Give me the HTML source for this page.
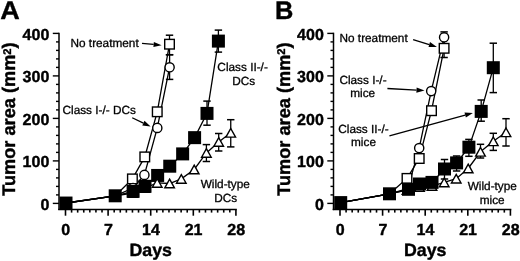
<!DOCTYPE html>
<html><head><meta charset="utf-8"><style>
html,body{margin:0;padding:0;background:#fff;}
svg{display:block;filter:grayscale(1);}
text{font-family:"Liberation Sans", sans-serif;fill:#000;text-rendering:geometricPrecision;stroke:#000;stroke-width:0.3px;stroke-linejoin:round;}
text[font-weight="bold"]{stroke:#000;stroke-width:0.4px;stroke-linejoin:round;}
</style></head><body>
<svg width="520" height="261" viewBox="0 0 520 261">
<rect width="520" height="261" fill="#fff"/>
<text x="0.3" y="19.2" font-size="25.5" font-weight="bold" transform="translate(0.3,0) scale(1.06,1) translate(-0.3,0)">A</text>
<line x1="59" y1="32.7" x2="59" y2="210.1" stroke="#000" stroke-width="1.5"/>
<line x1="52.80" y1="203.40" x2="59" y2="203.40" stroke="#000" stroke-width="1.4"/>
<text x="49.30" y="209.70" font-size="16" font-weight="bold" text-anchor="end">0</text>
<line x1="56.00" y1="194.90" x2="59" y2="194.90" stroke="#000" stroke-width="1.4"/>
<line x1="56.00" y1="186.40" x2="59" y2="186.40" stroke="#000" stroke-width="1.4"/>
<line x1="56.00" y1="177.90" x2="59" y2="177.90" stroke="#000" stroke-width="1.4"/>
<line x1="56.00" y1="169.40" x2="59" y2="169.40" stroke="#000" stroke-width="1.4"/>
<line x1="52.80" y1="160.90" x2="59" y2="160.90" stroke="#000" stroke-width="1.4"/>
<text x="49.30" y="167.20" font-size="16" font-weight="bold" text-anchor="end">100</text>
<line x1="56.00" y1="152.40" x2="59" y2="152.40" stroke="#000" stroke-width="1.4"/>
<line x1="56.00" y1="143.90" x2="59" y2="143.90" stroke="#000" stroke-width="1.4"/>
<line x1="56.00" y1="135.40" x2="59" y2="135.40" stroke="#000" stroke-width="1.4"/>
<line x1="56.00" y1="126.90" x2="59" y2="126.90" stroke="#000" stroke-width="1.4"/>
<line x1="52.80" y1="118.40" x2="59" y2="118.40" stroke="#000" stroke-width="1.4"/>
<text x="49.30" y="124.70" font-size="16" font-weight="bold" text-anchor="end">200</text>
<line x1="56.00" y1="109.90" x2="59" y2="109.90" stroke="#000" stroke-width="1.4"/>
<line x1="56.00" y1="101.40" x2="59" y2="101.40" stroke="#000" stroke-width="1.4"/>
<line x1="56.00" y1="92.90" x2="59" y2="92.90" stroke="#000" stroke-width="1.4"/>
<line x1="56.00" y1="84.40" x2="59" y2="84.40" stroke="#000" stroke-width="1.4"/>
<line x1="52.80" y1="75.90" x2="59" y2="75.90" stroke="#000" stroke-width="1.4"/>
<text x="49.30" y="82.20" font-size="16" font-weight="bold" text-anchor="end">300</text>
<line x1="56.00" y1="67.40" x2="59" y2="67.40" stroke="#000" stroke-width="1.4"/>
<line x1="56.00" y1="58.90" x2="59" y2="58.90" stroke="#000" stroke-width="1.4"/>
<line x1="56.00" y1="50.40" x2="59" y2="50.40" stroke="#000" stroke-width="1.4"/>
<line x1="56.00" y1="41.90" x2="59" y2="41.90" stroke="#000" stroke-width="1.4"/>
<line x1="52.80" y1="33.40" x2="59" y2="33.40" stroke="#000" stroke-width="1.4"/>
<text x="49.30" y="39.70" font-size="16" font-weight="bold" text-anchor="end">400</text>
<line x1="58.2" y1="209.5" x2="236.81" y2="209.5" stroke="#000" stroke-width="1.4"/>
<line x1="65.50" y1="209.5" x2="65.50" y2="215.7" stroke="#000" stroke-width="1.6"/>
<text x="65.80" y="234.9" font-size="16" font-weight="bold" text-anchor="middle">0</text>
<line x1="71.59" y1="209.5" x2="71.59" y2="212.6" stroke="#000" stroke-width="1.6"/>
<line x1="77.67" y1="209.5" x2="77.67" y2="212.6" stroke="#000" stroke-width="1.6"/>
<line x1="83.76" y1="209.5" x2="83.76" y2="212.6" stroke="#000" stroke-width="1.6"/>
<line x1="89.84" y1="209.5" x2="89.84" y2="212.6" stroke="#000" stroke-width="1.6"/>
<line x1="95.93" y1="209.5" x2="95.93" y2="212.6" stroke="#000" stroke-width="1.6"/>
<line x1="102.02" y1="209.5" x2="102.02" y2="212.6" stroke="#000" stroke-width="1.6"/>
<line x1="108.10" y1="209.5" x2="108.10" y2="215.7" stroke="#000" stroke-width="1.6"/>
<text x="108.40" y="234.9" font-size="16" font-weight="bold" text-anchor="middle">7</text>
<line x1="114.19" y1="209.5" x2="114.19" y2="212.6" stroke="#000" stroke-width="1.6"/>
<line x1="120.27" y1="209.5" x2="120.27" y2="212.6" stroke="#000" stroke-width="1.6"/>
<line x1="126.36" y1="209.5" x2="126.36" y2="212.6" stroke="#000" stroke-width="1.6"/>
<line x1="132.45" y1="209.5" x2="132.45" y2="212.6" stroke="#000" stroke-width="1.6"/>
<line x1="138.53" y1="209.5" x2="138.53" y2="212.6" stroke="#000" stroke-width="1.6"/>
<line x1="144.62" y1="209.5" x2="144.62" y2="212.6" stroke="#000" stroke-width="1.6"/>
<line x1="150.70" y1="209.5" x2="150.70" y2="215.7" stroke="#000" stroke-width="1.6"/>
<text x="151.00" y="234.9" font-size="16" font-weight="bold" text-anchor="middle">14</text>
<line x1="156.79" y1="209.5" x2="156.79" y2="212.6" stroke="#000" stroke-width="1.6"/>
<line x1="162.88" y1="209.5" x2="162.88" y2="212.6" stroke="#000" stroke-width="1.6"/>
<line x1="168.96" y1="209.5" x2="168.96" y2="212.6" stroke="#000" stroke-width="1.6"/>
<line x1="175.05" y1="209.5" x2="175.05" y2="212.6" stroke="#000" stroke-width="1.6"/>
<line x1="181.13" y1="209.5" x2="181.13" y2="212.6" stroke="#000" stroke-width="1.6"/>
<line x1="187.22" y1="209.5" x2="187.22" y2="212.6" stroke="#000" stroke-width="1.6"/>
<line x1="193.31" y1="209.5" x2="193.31" y2="215.7" stroke="#000" stroke-width="1.6"/>
<text x="193.61" y="234.9" font-size="16" font-weight="bold" text-anchor="middle">21</text>
<line x1="199.39" y1="209.5" x2="199.39" y2="212.6" stroke="#000" stroke-width="1.6"/>
<line x1="205.48" y1="209.5" x2="205.48" y2="212.6" stroke="#000" stroke-width="1.6"/>
<line x1="211.56" y1="209.5" x2="211.56" y2="212.6" stroke="#000" stroke-width="1.6"/>
<line x1="217.65" y1="209.5" x2="217.65" y2="212.6" stroke="#000" stroke-width="1.6"/>
<line x1="223.74" y1="209.5" x2="223.74" y2="212.6" stroke="#000" stroke-width="1.6"/>
<line x1="229.82" y1="209.5" x2="229.82" y2="212.6" stroke="#000" stroke-width="1.6"/>
<line x1="235.91" y1="209.5" x2="235.91" y2="215.7" stroke="#000" stroke-width="1.6"/>
<text x="236.21" y="234.9" font-size="16" font-weight="bold" text-anchor="middle">28</text>
<text x="150.70" y="255.5" font-size="17.8" font-weight="bold" text-anchor="middle">Days</text>
<text transform="translate(15.20,119.1) rotate(-90)" font-size="18.2" font-weight="bold" text-anchor="middle">Tumor area (mm<tspan font-size="11.2" dy="-4.5">2</tspan><tspan dy="4.5">)</tspan></text>
<polyline points="66.00,203.00 115.20,195.80 133.00,193.00 145.00,188.00 157.20,182.90 169.60,183.50 181.30,178.90 194.20,169.50 206.40,152.90 218.70,141.90 230.75,132.80" fill="none" stroke="#000" stroke-width="1.3"/>
<polyline points="66.00,203.00 115.20,195.80 133.00,188.00 144.40,174.90 157.30,127.90 169.60,67.30" fill="none" stroke="#000" stroke-width="1.3"/>
<polyline points="66.00,203.00 115.20,195.80 132.40,178.90 144.80,156.90 157.25,111.80 169.50,44.20" fill="none" stroke="#000" stroke-width="1.3"/>
<polyline points="66.00,203.05 115.20,195.80 133.10,191.30 145.00,186.30 157.65,175.45 169.75,166.20 182.65,153.90 194.60,137.65 207.00,113.40 218.40,41.10" fill="none" stroke="#000" stroke-width="1.3"/>
<line x1="206.40" y1="144.60" x2="206.40" y2="161.50" stroke="#000" stroke-width="1.3"/><line x1="202.70" y1="144.60" x2="210.10" y2="144.60" stroke="#000" stroke-width="1.5"/><line x1="202.70" y1="161.50" x2="210.10" y2="161.50" stroke="#000" stroke-width="1.5"/>
<line x1="218.70" y1="133.50" x2="218.70" y2="151.00" stroke="#000" stroke-width="1.3"/><line x1="215.00" y1="133.50" x2="222.40" y2="133.50" stroke="#000" stroke-width="1.5"/><line x1="215.00" y1="151.00" x2="222.40" y2="151.00" stroke="#000" stroke-width="1.5"/>
<line x1="230.75" y1="119.70" x2="230.75" y2="146.90" stroke="#000" stroke-width="1.3"/><line x1="227.05" y1="119.70" x2="234.45" y2="119.70" stroke="#000" stroke-width="1.5"/><line x1="227.05" y1="146.90" x2="234.45" y2="146.90" stroke="#000" stroke-width="1.5"/>
<line x1="169.60" y1="54.80" x2="169.60" y2="79.40" stroke="#000" stroke-width="1.3"/><line x1="165.90" y1="54.80" x2="173.30" y2="54.80" stroke="#000" stroke-width="1.5"/><line x1="165.90" y1="79.40" x2="173.30" y2="79.40" stroke="#000" stroke-width="1.5"/>
<line x1="169.50" y1="35.20" x2="169.50" y2="54.70" stroke="#000" stroke-width="1.3"/><line x1="165.80" y1="35.20" x2="173.20" y2="35.20" stroke="#000" stroke-width="1.5"/><line x1="165.80" y1="54.70" x2="173.20" y2="54.70" stroke="#000" stroke-width="1.5"/>
<line x1="207.00" y1="101.10" x2="207.00" y2="125.20" stroke="#000" stroke-width="1.3"/><line x1="203.30" y1="101.10" x2="210.70" y2="101.10" stroke="#000" stroke-width="1.5"/><line x1="203.30" y1="125.20" x2="210.70" y2="125.20" stroke="#000" stroke-width="1.5"/>
<line x1="218.40" y1="30.10" x2="218.40" y2="52.10" stroke="#000" stroke-width="1.3"/><line x1="214.70" y1="30.10" x2="222.10" y2="30.10" stroke="#000" stroke-width="1.5"/><line x1="214.70" y1="52.10" x2="222.10" y2="52.10" stroke="#000" stroke-width="1.5"/>
<polygon points="66.00,198.70 70.80,207.30 61.20,207.30" fill="#fff" stroke="#000" stroke-width="1.4" stroke-linejoin="miter"/>
<polygon points="115.20,191.50 120.00,200.10 110.40,200.10" fill="#fff" stroke="#000" stroke-width="1.4" stroke-linejoin="miter"/>
<polygon points="133.00,188.70 137.80,197.30 128.20,197.30" fill="#fff" stroke="#000" stroke-width="1.4" stroke-linejoin="miter"/>
<polygon points="145.00,183.70 149.80,192.30 140.20,192.30" fill="#fff" stroke="#000" stroke-width="1.4" stroke-linejoin="miter"/>
<rect x="61.20" y="198.20" width="9.60" height="9.60" fill="#fff" stroke="#000" stroke-width="1.4"/>
<rect x="110.40" y="191.00" width="9.60" height="9.60" fill="#fff" stroke="#000" stroke-width="1.4"/>
<rect x="127.60" y="174.10" width="9.60" height="9.60" fill="#fff" stroke="#000" stroke-width="1.4"/>
<rect x="140.00" y="152.10" width="9.60" height="9.60" fill="#fff" stroke="#000" stroke-width="1.4"/>
<rect x="152.45" y="107.00" width="9.60" height="9.60" fill="#fff" stroke="#000" stroke-width="1.4"/>
<rect x="164.70" y="39.40" width="9.60" height="9.60" fill="#fff" stroke="#000" stroke-width="1.4"/>
<circle cx="66.00" cy="203.00" r="4.6" fill="#fff" stroke="#000" stroke-width="1.4"/>
<circle cx="115.20" cy="195.80" r="4.6" fill="#fff" stroke="#000" stroke-width="1.4"/>
<circle cx="133.00" cy="188.00" r="4.6" fill="#fff" stroke="#000" stroke-width="1.4"/>
<circle cx="144.40" cy="174.90" r="4.6" fill="#fff" stroke="#000" stroke-width="1.4"/>
<circle cx="157.30" cy="127.90" r="4.6" fill="#fff" stroke="#000" stroke-width="1.4"/>
<circle cx="169.60" cy="67.30" r="4.6" fill="#fff" stroke="#000" stroke-width="1.4"/>
<rect x="59.50" y="196.55" width="13.00" height="13.00" fill="#000"/>
<rect x="108.70" y="189.30" width="13.00" height="13.00" fill="#000"/>
<rect x="126.60" y="184.80" width="13.00" height="13.00" fill="#000"/>
<rect x="138.50" y="179.80" width="13.00" height="13.00" fill="#000"/>
<rect x="151.15" y="168.95" width="13.00" height="13.00" fill="#000"/>
<rect x="163.25" y="159.70" width="13.00" height="13.00" fill="#000"/>
<rect x="176.15" y="147.40" width="13.00" height="13.00" fill="#000"/>
<rect x="188.10" y="131.15" width="13.00" height="13.00" fill="#000"/>
<rect x="200.50" y="106.90" width="13.00" height="13.00" fill="#000"/>
<rect x="211.90" y="34.60" width="13.00" height="13.00" fill="#000"/>
<polygon points="157.20,178.60 162.00,187.20 152.40,187.20" fill="#fff" stroke="#000" stroke-width="1.4" stroke-linejoin="miter"/>
<polygon points="169.60,179.20 174.40,187.80 164.80,187.80" fill="#fff" stroke="#000" stroke-width="1.4" stroke-linejoin="miter"/>
<polygon points="181.30,174.60 186.10,183.20 176.50,183.20" fill="#fff" stroke="#000" stroke-width="1.4" stroke-linejoin="miter"/>
<polygon points="194.20,165.20 199.00,173.80 189.40,173.80" fill="#fff" stroke="#000" stroke-width="1.4" stroke-linejoin="miter"/>
<polygon points="206.40,148.60 211.20,157.20 201.60,157.20" fill="#fff" stroke="#000" stroke-width="1.4" stroke-linejoin="miter"/>
<polygon points="218.70,137.60 223.50,146.20 213.90,146.20" fill="#fff" stroke="#000" stroke-width="1.4" stroke-linejoin="miter"/>
<polygon points="230.75,128.50 235.55,137.10 225.95,137.10" fill="#fff" stroke="#000" stroke-width="1.4" stroke-linejoin="miter"/>
<line x1="142.00" y1="43.40" x2="153.63" y2="44.47" stroke="#000" stroke-width="1.3"/>
<polygon points="161.60,45.20 153.40,47.06 153.87,41.88" fill="#000"/>
<line x1="132.20" y1="117.75" x2="143.39" y2="123.13" stroke="#000" stroke-width="1.3"/>
<polygon points="150.60,126.60 142.26,125.48 144.52,120.79" fill="#000"/>
<text x="70.50" y="47.00" font-size="11.8" text-anchor="start">No treatment</text>
<text x="62.50" y="113.70" font-size="11.8" text-anchor="start">Class I-/- DCs</text>
<text x="242.60" y="71.20" font-size="11.8" text-anchor="middle">Class II-/-</text>
<text x="243.70" y="85.00" font-size="11.8" text-anchor="middle">DCs</text>
<text x="225.30" y="188.10" font-size="11.8" text-anchor="middle">Wild-type</text>
<text x="225.70" y="202.40" font-size="11.8" text-anchor="middle">DCs</text>
<text x="275.00" y="19.1" font-size="25.4" font-weight="bold">B</text>
<line x1="333.5" y1="32.7" x2="333.5" y2="210.1" stroke="#000" stroke-width="1.5"/>
<line x1="327.30" y1="203.40" x2="333.5" y2="203.40" stroke="#000" stroke-width="1.4"/>
<text x="323.80" y="209.70" font-size="16" font-weight="bold" text-anchor="end">0</text>
<line x1="330.50" y1="194.90" x2="333.5" y2="194.90" stroke="#000" stroke-width="1.4"/>
<line x1="330.50" y1="186.40" x2="333.5" y2="186.40" stroke="#000" stroke-width="1.4"/>
<line x1="330.50" y1="177.90" x2="333.5" y2="177.90" stroke="#000" stroke-width="1.4"/>
<line x1="330.50" y1="169.40" x2="333.5" y2="169.40" stroke="#000" stroke-width="1.4"/>
<line x1="327.30" y1="160.90" x2="333.5" y2="160.90" stroke="#000" stroke-width="1.4"/>
<text x="323.80" y="167.20" font-size="16" font-weight="bold" text-anchor="end">100</text>
<line x1="330.50" y1="152.40" x2="333.5" y2="152.40" stroke="#000" stroke-width="1.4"/>
<line x1="330.50" y1="143.90" x2="333.5" y2="143.90" stroke="#000" stroke-width="1.4"/>
<line x1="330.50" y1="135.40" x2="333.5" y2="135.40" stroke="#000" stroke-width="1.4"/>
<line x1="330.50" y1="126.90" x2="333.5" y2="126.90" stroke="#000" stroke-width="1.4"/>
<line x1="327.30" y1="118.40" x2="333.5" y2="118.40" stroke="#000" stroke-width="1.4"/>
<text x="323.80" y="124.70" font-size="16" font-weight="bold" text-anchor="end">200</text>
<line x1="330.50" y1="109.90" x2="333.5" y2="109.90" stroke="#000" stroke-width="1.4"/>
<line x1="330.50" y1="101.40" x2="333.5" y2="101.40" stroke="#000" stroke-width="1.4"/>
<line x1="330.50" y1="92.90" x2="333.5" y2="92.90" stroke="#000" stroke-width="1.4"/>
<line x1="330.50" y1="84.40" x2="333.5" y2="84.40" stroke="#000" stroke-width="1.4"/>
<line x1="327.30" y1="75.90" x2="333.5" y2="75.90" stroke="#000" stroke-width="1.4"/>
<text x="323.80" y="82.20" font-size="16" font-weight="bold" text-anchor="end">300</text>
<line x1="330.50" y1="67.40" x2="333.5" y2="67.40" stroke="#000" stroke-width="1.4"/>
<line x1="330.50" y1="58.90" x2="333.5" y2="58.90" stroke="#000" stroke-width="1.4"/>
<line x1="330.50" y1="50.40" x2="333.5" y2="50.40" stroke="#000" stroke-width="1.4"/>
<line x1="330.50" y1="41.90" x2="333.5" y2="41.90" stroke="#000" stroke-width="1.4"/>
<line x1="327.30" y1="33.40" x2="333.5" y2="33.40" stroke="#000" stroke-width="1.4"/>
<text x="323.80" y="39.70" font-size="16" font-weight="bold" text-anchor="end">400</text>
<line x1="332.7" y1="209.5" x2="511.31" y2="209.5" stroke="#000" stroke-width="1.4"/>
<line x1="340.00" y1="209.5" x2="340.00" y2="215.7" stroke="#000" stroke-width="1.6"/>
<text x="340.30" y="234.9" font-size="16" font-weight="bold" text-anchor="middle">0</text>
<line x1="346.09" y1="209.5" x2="346.09" y2="212.6" stroke="#000" stroke-width="1.6"/>
<line x1="352.17" y1="209.5" x2="352.17" y2="212.6" stroke="#000" stroke-width="1.6"/>
<line x1="358.26" y1="209.5" x2="358.26" y2="212.6" stroke="#000" stroke-width="1.6"/>
<line x1="364.34" y1="209.5" x2="364.34" y2="212.6" stroke="#000" stroke-width="1.6"/>
<line x1="370.43" y1="209.5" x2="370.43" y2="212.6" stroke="#000" stroke-width="1.6"/>
<line x1="376.52" y1="209.5" x2="376.52" y2="212.6" stroke="#000" stroke-width="1.6"/>
<line x1="382.60" y1="209.5" x2="382.60" y2="215.7" stroke="#000" stroke-width="1.6"/>
<text x="382.90" y="234.9" font-size="16" font-weight="bold" text-anchor="middle">7</text>
<line x1="388.69" y1="209.5" x2="388.69" y2="212.6" stroke="#000" stroke-width="1.6"/>
<line x1="394.77" y1="209.5" x2="394.77" y2="212.6" stroke="#000" stroke-width="1.6"/>
<line x1="400.86" y1="209.5" x2="400.86" y2="212.6" stroke="#000" stroke-width="1.6"/>
<line x1="406.95" y1="209.5" x2="406.95" y2="212.6" stroke="#000" stroke-width="1.6"/>
<line x1="413.03" y1="209.5" x2="413.03" y2="212.6" stroke="#000" stroke-width="1.6"/>
<line x1="419.12" y1="209.5" x2="419.12" y2="212.6" stroke="#000" stroke-width="1.6"/>
<line x1="425.20" y1="209.5" x2="425.20" y2="215.7" stroke="#000" stroke-width="1.6"/>
<text x="425.50" y="234.9" font-size="16" font-weight="bold" text-anchor="middle">14</text>
<line x1="431.29" y1="209.5" x2="431.29" y2="212.6" stroke="#000" stroke-width="1.6"/>
<line x1="437.38" y1="209.5" x2="437.38" y2="212.6" stroke="#000" stroke-width="1.6"/>
<line x1="443.46" y1="209.5" x2="443.46" y2="212.6" stroke="#000" stroke-width="1.6"/>
<line x1="449.55" y1="209.5" x2="449.55" y2="212.6" stroke="#000" stroke-width="1.6"/>
<line x1="455.63" y1="209.5" x2="455.63" y2="212.6" stroke="#000" stroke-width="1.6"/>
<line x1="461.72" y1="209.5" x2="461.72" y2="212.6" stroke="#000" stroke-width="1.6"/>
<line x1="467.81" y1="209.5" x2="467.81" y2="215.7" stroke="#000" stroke-width="1.6"/>
<text x="468.11" y="234.9" font-size="16" font-weight="bold" text-anchor="middle">21</text>
<line x1="473.89" y1="209.5" x2="473.89" y2="212.6" stroke="#000" stroke-width="1.6"/>
<line x1="479.98" y1="209.5" x2="479.98" y2="212.6" stroke="#000" stroke-width="1.6"/>
<line x1="486.06" y1="209.5" x2="486.06" y2="212.6" stroke="#000" stroke-width="1.6"/>
<line x1="492.15" y1="209.5" x2="492.15" y2="212.6" stroke="#000" stroke-width="1.6"/>
<line x1="498.24" y1="209.5" x2="498.24" y2="212.6" stroke="#000" stroke-width="1.6"/>
<line x1="504.32" y1="209.5" x2="504.32" y2="212.6" stroke="#000" stroke-width="1.6"/>
<line x1="510.41" y1="209.5" x2="510.41" y2="215.7" stroke="#000" stroke-width="1.6"/>
<text x="510.71" y="234.9" font-size="16" font-weight="bold" text-anchor="middle">28</text>
<text x="425.20" y="255.5" font-size="17.8" font-weight="bold" text-anchor="middle">Days</text>
<text transform="translate(289.70,119.1) rotate(-90)" font-size="18.2" font-weight="bold" text-anchor="middle">Tumor area (mm<tspan font-size="11.2" dy="-4.5">2</tspan><tspan dy="4.5">)</tspan></text>
<polyline points="340.70,202.60 389.50,193.80 407.00,190.00 419.50,187.00 432.00,186.00 444.20,182.40 456.20,178.70 468.20,168.50 480.50,151.80 493.30,141.30 506.00,132.30" fill="none" stroke="#000" stroke-width="1.3"/>
<polyline points="340.70,202.60 389.50,193.80 407.80,188.50 419.20,148.10 431.20,91.10 444.10,37.30" fill="none" stroke="#000" stroke-width="1.3"/>
<polyline points="340.70,202.60 389.50,193.80 407.00,178.40 419.20,158.50 431.50,110.70 444.10,48.30" fill="none" stroke="#000" stroke-width="1.3"/>
<polyline points="340.70,202.60 389.50,193.80 408.50,189.30 419.50,184.00 432.00,182.40 444.50,169.00 456.60,162.90 468.90,147.20 481.20,111.40 493.30,67.70" fill="none" stroke="#000" stroke-width="1.3"/>
<line x1="480.50" y1="144.30" x2="480.50" y2="158.00" stroke="#000" stroke-width="1.3"/><line x1="476.80" y1="144.30" x2="484.20" y2="144.30" stroke="#000" stroke-width="1.5"/><line x1="476.80" y1="158.00" x2="484.20" y2="158.00" stroke="#000" stroke-width="1.5"/>
<line x1="493.30" y1="133.30" x2="493.30" y2="150.40" stroke="#000" stroke-width="1.3"/><line x1="489.60" y1="133.30" x2="497.00" y2="133.30" stroke="#000" stroke-width="1.5"/><line x1="489.60" y1="150.40" x2="497.00" y2="150.40" stroke="#000" stroke-width="1.5"/>
<line x1="506.00" y1="118.70" x2="506.00" y2="146.00" stroke="#000" stroke-width="1.3"/><line x1="502.30" y1="118.70" x2="509.70" y2="118.70" stroke="#000" stroke-width="1.5"/><line x1="502.30" y1="146.00" x2="509.70" y2="146.00" stroke="#000" stroke-width="1.5"/>
<line x1="444.10" y1="31.90" x2="444.10" y2="45.00" stroke="#000" stroke-width="1.3"/><line x1="440.40" y1="31.90" x2="447.80" y2="31.90" stroke="#000" stroke-width="1.5"/><line x1="440.40" y1="45.00" x2="447.80" y2="45.00" stroke="#000" stroke-width="1.5"/>
<line x1="444.10" y1="40.00" x2="444.10" y2="57.50" stroke="#000" stroke-width="1.3"/><line x1="440.40" y1="40.00" x2="447.80" y2="40.00" stroke="#000" stroke-width="1.5"/><line x1="440.40" y1="57.50" x2="447.80" y2="57.50" stroke="#000" stroke-width="1.5"/>
<line x1="444.50" y1="159.50" x2="444.50" y2="179.00" stroke="#000" stroke-width="1.3"/><line x1="440.80" y1="159.50" x2="448.20" y2="159.50" stroke="#000" stroke-width="1.5"/><line x1="440.80" y1="179.00" x2="448.20" y2="179.00" stroke="#000" stroke-width="1.5"/>
<line x1="456.60" y1="156.00" x2="456.60" y2="171.00" stroke="#000" stroke-width="1.3"/><line x1="452.90" y1="156.00" x2="460.30" y2="156.00" stroke="#000" stroke-width="1.5"/><line x1="452.90" y1="171.00" x2="460.30" y2="171.00" stroke="#000" stroke-width="1.5"/>
<line x1="468.90" y1="139.40" x2="468.90" y2="156.30" stroke="#000" stroke-width="1.3"/><line x1="465.20" y1="139.40" x2="472.60" y2="139.40" stroke="#000" stroke-width="1.5"/><line x1="465.20" y1="156.30" x2="472.60" y2="156.30" stroke="#000" stroke-width="1.5"/>
<line x1="481.20" y1="100.00" x2="481.20" y2="121.20" stroke="#000" stroke-width="1.3"/><line x1="477.50" y1="100.00" x2="484.90" y2="100.00" stroke="#000" stroke-width="1.5"/><line x1="477.50" y1="121.20" x2="484.90" y2="121.20" stroke="#000" stroke-width="1.5"/>
<line x1="493.30" y1="43.20" x2="493.30" y2="92.60" stroke="#000" stroke-width="1.3"/><line x1="489.60" y1="43.20" x2="497.00" y2="43.20" stroke="#000" stroke-width="1.5"/><line x1="489.60" y1="92.60" x2="497.00" y2="92.60" stroke="#000" stroke-width="1.5"/>
<polygon points="340.70,198.30 345.50,206.90 335.90,206.90" fill="#fff" stroke="#000" stroke-width="1.4" stroke-linejoin="miter"/>
<polygon points="389.50,189.50 394.30,198.10 384.70,198.10" fill="#fff" stroke="#000" stroke-width="1.4" stroke-linejoin="miter"/>
<polygon points="407.00,185.70 411.80,194.30 402.20,194.30" fill="#fff" stroke="#000" stroke-width="1.4" stroke-linejoin="miter"/>
<polygon points="419.50,182.70 424.30,191.30 414.70,191.30" fill="#fff" stroke="#000" stroke-width="1.4" stroke-linejoin="miter"/>
<polygon points="432.00,181.70 436.80,190.30 427.20,190.30" fill="#fff" stroke="#000" stroke-width="1.4" stroke-linejoin="miter"/>
<rect x="335.90" y="197.80" width="9.60" height="9.60" fill="#fff" stroke="#000" stroke-width="1.4"/>
<rect x="384.70" y="189.00" width="9.60" height="9.60" fill="#fff" stroke="#000" stroke-width="1.4"/>
<rect x="402.20" y="173.60" width="9.60" height="9.60" fill="#fff" stroke="#000" stroke-width="1.4"/>
<rect x="414.40" y="153.70" width="9.60" height="9.60" fill="#fff" stroke="#000" stroke-width="1.4"/>
<rect x="426.70" y="105.90" width="9.60" height="9.60" fill="#fff" stroke="#000" stroke-width="1.4"/>
<rect x="439.30" y="43.50" width="9.60" height="9.60" fill="#fff" stroke="#000" stroke-width="1.4"/>
<circle cx="340.70" cy="202.60" r="4.6" fill="#fff" stroke="#000" stroke-width="1.4"/>
<circle cx="389.50" cy="193.80" r="4.6" fill="#fff" stroke="#000" stroke-width="1.4"/>
<circle cx="407.80" cy="188.50" r="4.6" fill="#fff" stroke="#000" stroke-width="1.4"/>
<circle cx="419.20" cy="148.10" r="4.6" fill="#fff" stroke="#000" stroke-width="1.4"/>
<circle cx="431.20" cy="91.10" r="4.6" fill="#fff" stroke="#000" stroke-width="1.4"/>
<circle cx="444.10" cy="37.30" r="4.6" fill="#fff" stroke="#000" stroke-width="1.4"/>
<rect x="334.20" y="196.10" width="13.00" height="13.00" fill="#000"/>
<rect x="383.00" y="187.30" width="13.00" height="13.00" fill="#000"/>
<rect x="402.00" y="182.80" width="13.00" height="13.00" fill="#000"/>
<rect x="413.00" y="177.50" width="13.00" height="13.00" fill="#000"/>
<rect x="425.50" y="175.90" width="13.00" height="13.00" fill="#000"/>
<rect x="438.00" y="162.50" width="13.00" height="13.00" fill="#000"/>
<rect x="450.10" y="156.40" width="13.00" height="13.00" fill="#000"/>
<rect x="462.40" y="140.70" width="13.00" height="13.00" fill="#000"/>
<rect x="474.70" y="104.90" width="13.00" height="13.00" fill="#000"/>
<rect x="486.80" y="61.20" width="13.00" height="13.00" fill="#000"/>
<polygon points="444.20,178.10 449.00,186.70 439.40,186.70" fill="#fff" stroke="#000" stroke-width="1.4" stroke-linejoin="miter"/>
<polygon points="456.20,174.40 461.00,183.00 451.40,183.00" fill="#fff" stroke="#000" stroke-width="1.4" stroke-linejoin="miter"/>
<polygon points="468.20,164.20 473.00,172.80 463.40,172.80" fill="#fff" stroke="#000" stroke-width="1.4" stroke-linejoin="miter"/>
<polygon points="480.50,147.50 485.30,156.10 475.70,156.10" fill="#fff" stroke="#000" stroke-width="1.4" stroke-linejoin="miter"/>
<polygon points="493.30,137.00 498.10,145.60 488.50,145.60" fill="#fff" stroke="#000" stroke-width="1.4" stroke-linejoin="miter"/>
<polygon points="506.00,128.00 510.80,136.60 501.20,136.60" fill="#fff" stroke="#000" stroke-width="1.4" stroke-linejoin="miter"/>
<line x1="413.10" y1="39.60" x2="429.25" y2="44.55" stroke="#000" stroke-width="1.3"/>
<polygon points="436.90,46.90 428.49,47.04 430.01,42.07" fill="#000"/>
<line x1="387.40" y1="88.50" x2="416.51" y2="90.15" stroke="#000" stroke-width="1.3"/>
<polygon points="424.50,90.60 416.37,92.74 416.66,87.55" fill="#000"/>
<line x1="389.40" y1="135.90" x2="465.19" y2="115.02" stroke="#000" stroke-width="1.3"/>
<polygon points="472.90,112.90 465.88,117.53 464.50,112.52" fill="#000"/>
<text x="339.50" y="42.30" font-size="11.8" text-anchor="start">No treatment</text>
<text x="363.00" y="83.80" font-size="11.8" text-anchor="middle">Class I-/-</text>
<text x="362.70" y="97.20" font-size="11.8" text-anchor="middle">mice</text>
<text x="363.50" y="132.60" font-size="11.8" text-anchor="middle">Class II-/-</text>
<text x="363.50" y="146.40" font-size="11.8" text-anchor="middle">mice</text>
<text x="492.30" y="189.50" font-size="11.8" text-anchor="middle">Wild-type</text>
<text x="492.20" y="203.80" font-size="11.8" text-anchor="middle">mice</text>
</svg>
</body></html>
